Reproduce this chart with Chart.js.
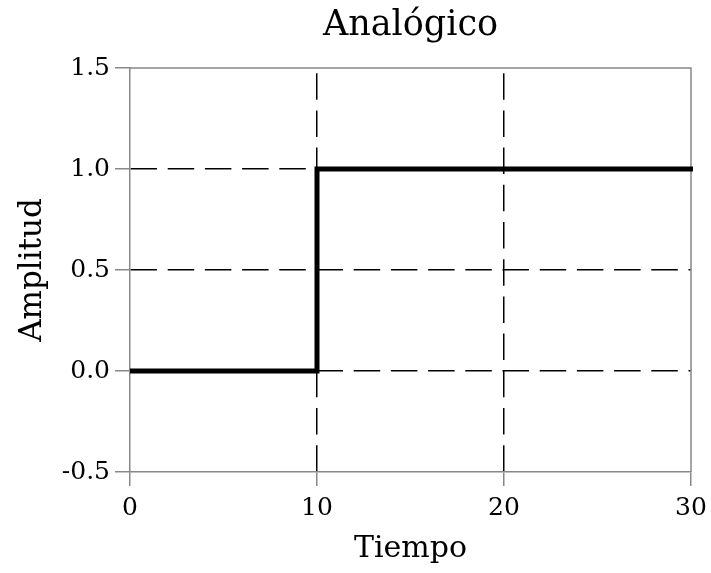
<!DOCTYPE html>
<html>
<head>
<meta charset="utf-8">
<script src="https://cdn.jsdelivr.net/npm/chart.js@4"></script>
<style>
  html, body { margin: 0; padding: 0; background: #fff; }
  #wrap { width: 711px; height: 573px; }
</style>
</head>
<body>
<div id="wrap"><canvas id="senal"></canvas></div>
<script>
// step signal: 0 until t = 10, then 1
const tiempo = [0, 10, 10, 30];
const amplitud = [0, 0, 1, 1];
const xTicks = [0, 10, 20, 30];
const yTicks = [-0.5, 0.0, 0.5, 1.0, 1.5];

const serif = "'DejaVu Serif', serif";
const frameGrey = '#888';

// top and right edges of the plot box
const marco = {
    id: 'marco',
    beforeDatasetsDraw(chart) {
        const { ctx, chartArea: a } = chart;
        ctx.save();
        ctx.strokeStyle = frameGrey;
        ctx.lineWidth = 1.5;
        ctx.beginPath();
        ctx.moveTo(a.left, a.top);
        ctx.lineTo(a.right, a.top);
        ctx.lineTo(a.right, a.bottom);
        ctx.stroke();
        ctx.restore();
    }
};

// dashed lines only on the inner ticks
function innerGrid(ticks) {
    return (c) => {
        const v = c.tick ? c.tick.value : null;
        return (v === ticks[0] || v === ticks[ticks.length - 1]) ? 'rgba(0,0,0,0)' : '#000';
    };
}

const ctx = document.getElementById('senal').getContext('2d');
new Chart(ctx, {
    type: 'line',
    data: {
        datasets: [{
            data: tiempo.map((t, i) => ({ x: t, y: amplitud[i] })),
            borderColor: '#000',
            borderWidth: 5,
            borderCapStyle: 'square',
            borderJoinStyle: 'miter',
            pointRadius: 0,
            tension: 0,
            fill: false,
            clip: { left: 0, right: 2, top: 5, bottom: 5 }
        }]
    },
    options: {
        responsive: true,
        maintainAspectRatio: false,
        animation: false,
        layout: { padding: { left: 0, right: 20, top: 0, bottom: 0 } },
        plugins: {
            legend: { display: false },
            tooltip: { enabled: false },
            title: {
                display: true,
                text: 'Analógico',
                fullSize: false,
                color: '#000',
                font: { family: serif, size: 35, weight: 'normal' },
                padding: { top: 5.2, bottom: 20.8 }
            }
        },
        scales: {
            x: {
                type: 'linear',
                min: xTicks[0],
                max: xTicks[xTicks.length - 1],
                afterBuildTicks: (s) => { s.ticks = xTicks.map(v => ({ value: v })); },
                afterFit: (s) => {
                    s.height = 101;
                    s.paddingLeft = 0;
                    s.paddingRight = 0;
                },
                ticks: {
                    color: '#000',
                    padding: 7.3,
                    font: { family: serif, size: 25 },
                    callback: (v) => String(v)
                },
                grid: {
                    color: innerGrid(xTicks),
                    lineWidth: 1.5,
                    tickColor: frameGrey,
                    tickLength: 14,
                    tickWidth: 1.5
                },
                border: {
                    display: true,
                    color: frameGrey,
                    width: 1.5,
                    dash: [26.5, 10.7],
                    dashOffset: 32
                },
                title: {
                    display: true,
                    text: 'Tiempo',
                    color: '#000',
                    font: { family: serif, size: 30 },
                    padding: { top: 0, bottom: 5.4 }
                }
            },
            y: {
                type: 'linear',
                min: yTicks[0],
                max: yTicks[yTicks.length - 1],
                afterBuildTicks: (s) => { s.ticks = yTicks.map(v => ({ value: v })); },
                afterFit: (s) => { s.width = 130; },
                ticks: {
                    color: '#000',
                    padding: 5,
                    font: { family: serif, size: 25 },
                    callback: (v) => Number(v).toFixed(1)
                },
                grid: {
                    color: innerGrid(yTicks),
                    lineWidth: 1.5,
                    tickColor: frameGrey,
                    tickLength: 15,
                    tickWidth: 1.5
                },
                border: {
                    display: true,
                    color: frameGrey,
                    width: 1.5,
                    dash: [26.5, 10.7],
                    dashOffset: 0
                },
                title: {
                    display: true,
                    text: 'Amplitud',
                    color: '#000',
                    font: { family: serif, size: 31 },
                    padding: { top: 14, bottom: 0 }
                }
            }
        }
    },
    plugins: [marco]
});
</script>
</body>
</html>
